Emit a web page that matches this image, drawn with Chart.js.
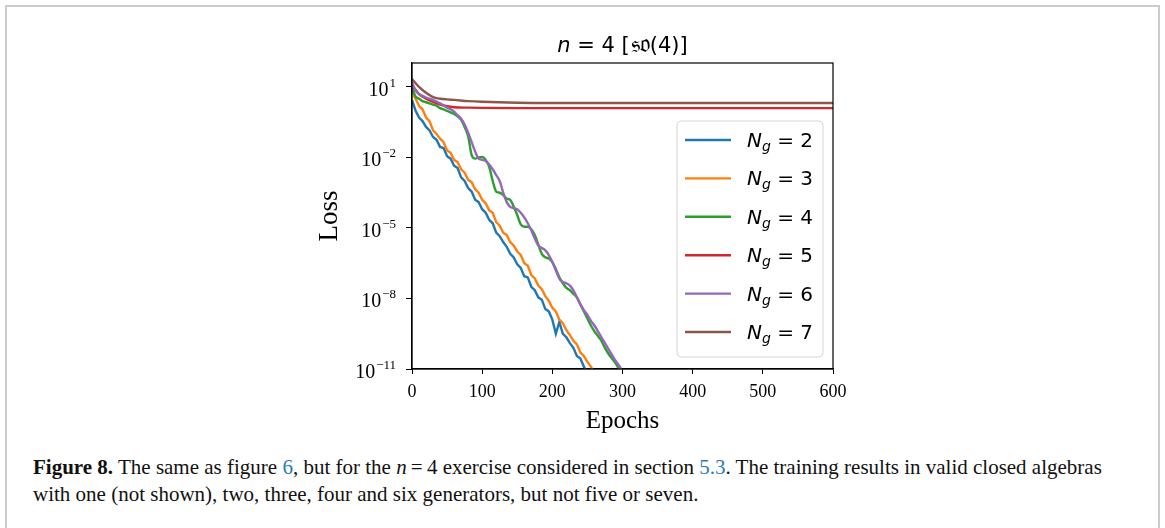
<!DOCTYPE html>
<html>
<head>
<meta charset="utf-8">
<script src="https://cdn.jsdelivr.net/npm/chart.js@4.4.0/dist/chart.umd.min.js"></script>
<style>
  html, body { margin: 0; padding: 0; background: #fff; }
  body { width: 1165px; height: 528px; position: relative; overflow: hidden; }
  .frame {
    position: absolute; left: 5px; top: 5px; width: 1155px; height: 600px;
    border: 2px solid #cccccc; box-sizing: border-box;
  }
  .chart-box { position: absolute; left: 0; top: 0; width: 1165px; height: 440px; }
  .caption {
    position: absolute; left: 33px; top: 454px; width: 1100px;
    font-family: "Liberation Serif", "Times New Roman", serif;
    font-size: 21px; line-height: 27px; color: #111;
  }
  .caption b { font-weight: bold; }
  .caption .ref { color: #2b7bb9; }
</style>
</head>
<body>
<div class="frame"></div>
<div class="chart-box"><canvas id="lossChart"></canvas></div>
<div class="caption">
  <b>Figure 8.</b> The same as figure <span class="ref">6</span>, but for the <i>n</i>&thinsp;=&thinsp;4 exercise considered in section <span class="ref">5.3</span>. The training results in valid closed algebras<br>
  with one (not shown), two, three, four and six generators, but not five or seven.
</div>

<script>
// loss curves, stored as log10(loss) against epoch
const epochsFast = [0,5,10,15,20,25,30,35,40,45,50,55,60,65,70,75,80,85,90,95,100,105,110,115,120,125,130,135,140,145,150,155,160,165,170,175,180,185,190,195,200,205,210,215,220,225,230,235,240,245,250,255,260];
const epochsSlow = [0,5,10,15,20,25,30,35,40,45,50,55,60,65,70,75,80,85,90,95,100,105,110,115,120,125,130,135,140,145,150,155,160,165,170,175,180,185,190,195,200,205,210,215,220,225,230,235,240,245,250,255,260,265,270,275,280,285,290,295,300,305];
const epochsFlat = [0,10,20,30,40,50,60,80,100,150,200,300,400,500,600];

const lossNg2 = [0.45,0.0,-0.3,-0.45,-0.7,-0.85,-1.13,-1.25,-1.55,-1.6,-1.95,-2.05,-2.35,-2.45,-2.85,-3.0,-3.3,-3.45,-3.8,-3.9,-4.2,-4.35,-4.65,-4.8,-5.2,-5.35,-5.6,-5.8,-6.1,-6.25,-6.55,-6.7,-7.05,-7.1,-7.5,-7.65,-7.95,-8.05,-8.45,-8.55,-8.9,-9.5,-9.0,-9.5,-9.65,-9.9,-10.1,-10.45,-10.55,-10.9,-11.2];
const lossNg3 = [0.8,0.5,0.2,0.05,-0.3,-0.45,-0.85,-1.0,-1.2,-1.35,-1.7,-1.8,-2.1,-2.2,-2.5,-2.65,-2.95,-3.05,-3.35,-3.5,-3.8,-3.95,-4.25,-4.35,-4.75,-4.9,-5.2,-5.3,-5.6,-5.75,-6.0,-6.15,-6.5,-6.6,-7.0,-7.15,-7.45,-7.6,-7.9,-8.1,-8.4,-8.55,-8.9,-9.05,-9.35,-9.55,-9.8,-9.95,-10.3,-10.45,-10.7,-10.9,-11.2];
const lossNg4 = [1.0,0.6,0.5,0.4,0.35,0.3,0.25,0.2,0.1,0.05,-0.02,-0.08,-0.15,-0.25,-0.4,-0.7,-1.1,-1.9,-2.05,-2.0,-1.98,-2.1,-2.4,-3.0,-3.45,-3.5,-3.6,-3.75,-3.8,-4.1,-4.45,-4.85,-4.95,-4.95,-5.05,-5.3,-5.7,-6.1,-6.25,-6.3,-6.45,-6.75,-7.1,-7.35,-7.55,-7.65,-7.8,-7.95,-8.25,-8.55,-8.85,-9.15,-9.4,-9.6,-9.8,-10.1,-10.35,-10.55,-10.75,-11.0,-11.3,-11.5];
const lossNg5 = [1.08,0.7,0.5,0.36,0.25,0.18,0.14,0.12,0.11,0.1,0.1,0.1,0.1,0.1,0.1];
const lossNg6 = [1.2,0.85,0.7,0.62,0.55,0.5,0.45,0.38,0.3,0.22,0.12,0.05,-0.05,-0.2,-0.35,-0.6,-0.95,-1.35,-1.75,-2.05,-2.1,-2.15,-2.3,-2.5,-2.75,-3.0,-3.5,-3.9,-4.1,-4.15,-4.2,-4.35,-4.55,-4.8,-5.1,-5.45,-5.75,-5.85,-5.95,-6.15,-6.45,-6.8,-7.15,-7.3,-7.35,-7.45,-7.65,-7.95,-8.25,-8.5,-8.7,-8.95,-9.15,-9.4,-9.65,-9.9,-10.15,-10.4,-10.65,-10.85,-11.1,-11.3];
const lossNg7 = [1.34,1.0,0.75,0.57,0.5,0.47,0.45,0.4,0.37,0.33,0.32,0.32,0.32,0.32,0.32];

const generatorCounts = [2, 3, 4, 5, 6, 7];
const seriesColors = ['#1f77b4', '#ff7f0e', '#2ca02c', '#d62728', '#9467bd', '#8c564b'];
const xTicks = [0, 100, 200, 300, 400, 500, 600];
const yTickExps = [1, -2, -5, -8, -11];

const series = [
    { x: epochsFast, y: lossNg2, smooth: false },
    { x: epochsFast, y: lossNg3, smooth: false },
    { x: epochsSlow, y: lossNg4, smooth: true },
    { x: epochsFlat, y: lossNg5, smooth: true },
    { x: epochsSlow, y: lossNg6, smooth: true },
    { x: epochsFlat, y: lossNg7, smooth: true },
];

const SERIF = '"Liberation Serif", "Times New Roman", serif';
const SANS = '"DejaVu Sans", sans-serif';

// frame, tick labels with exponents, axis titles, title and the legend
const decorations = {
    id: 'decorations',
    afterDraw(chart) {
        const ctx = chart.ctx;
        const area = chart.chartArea;
        const yScale = chart.scales.y;
        ctx.save();

        ctx.strokeStyle = '#000';
        ctx.lineWidth = 1.2;
        ctx.strokeRect(area.left, area.top, area.right - area.left, area.bottom - area.top);

        ctx.fillStyle = '#000';
        ctx.textBaseline = 'alphabetic';
        yTickExps.forEach(e => {
            const py = yScale.getPixelForValue(Math.pow(10, e));
            const sup = e < 0 ? '\u2212' + Math.abs(e) : String(e);
            ctx.font = '13px ' + SERIF;
            const supW = ctx.measureText(sup).width;
            ctx.textAlign = 'right';
            ctx.fillText(sup, 396, py);
            ctx.font = '20px ' + SERIF;
            ctx.fillText('10', 396 - supW - 1, py + 9);
        });

        ctx.font = '25px ' + SERIF;
        ctx.textAlign = 'center';
        ctx.fillText('Epochs', (area.left + area.right) / 2, 428);

        ctx.save();
        ctx.font = '27px ' + SERIF;
        ctx.translate(337, (area.top + area.bottom) / 2);
        ctx.rotate(-Math.PI / 2);
        ctx.fillText('Loss', 0, 0);
        ctx.restore();

        drawTitle(ctx, (area.left + area.right) / 2, 52);
        drawLegend(ctx);
        ctx.restore();
    }
};

function drawPieces(ctx, pieces, x, baseline) {
    let cx = x;
    pieces.forEach(p => {
        ctx.font = p.font;
        ctx.fillText(p.text, cx, baseline + (p.dy || 0));
        cx += ctx.measureText(p.text).width + (p.gap || 0);
    });
    return cx;
}

function measurePieces(ctx, pieces) {
    return pieces.reduce((w, p) => { ctx.font = p.font; return w + ctx.measureText(p.text).width + (p.gap || 0); }, 0);
}

function drawTitle(ctx, cx, baseline) {
    const pieces = [
        { text: 'n', font: 'italic 21px ' + SANS },
        { text: ' = 4 [', font: '21px ' + SANS, gap: 1 },
        { text: '\u{1D530}\u{1D52C}', font: '25px ' + SANS },
        { text: '(4)]', font: '21px ' + SANS },
    ];
    ctx.textAlign = 'left';
    const w = measurePieces(ctx, pieces);
    drawPieces(ctx, pieces, cx - w / 2, baseline);
}

function drawLegend(ctx) {
    const box = { x: 677, y: 121, w: 146, h: 236 };
    ctx.beginPath();
    ctx.roundRect(box.x, box.y, box.w, box.h, 4);
    ctx.fillStyle = 'rgba(255,255,255,0.8)';
    ctx.fill();
    ctx.strokeStyle = '#d6d6d6';
    ctx.lineWidth = 1;
    ctx.stroke();

    ctx.textAlign = 'left';
    generatorCounts.forEach((n, i) => {
        const ry = 140 + i * 38.4;
        ctx.strokeStyle = seriesColors[i];
        ctx.lineWidth = 2.4;
        ctx.beginPath();
        ctx.moveTo(685, ry);
        ctx.lineTo(731, ry);
        ctx.stroke();

        ctx.fillStyle = '#000';
        drawPieces(ctx, [
            { text: 'N', font: 'italic 20px ' + SANS },
            { text: 'g', font: 'italic 14px ' + SANS, dy: 4 },
            { text: ' = ' + n, font: '20px ' + SANS },
        ], 747, ry + 7);
    });
}

function renderChart() {
    const canvas = document.getElementById('lossChart');
    const ctx = canvas.getContext('2d');

    const datasets = series.map((s, i) => ({
        label: 'N_g = ' + generatorCounts[i],
        data: s.x.map((e, k) => ({ x: e, y: Math.pow(10, s.y[k]) })),
        borderColor: seriesColors[i],
        borderWidth: 2.4,
        pointRadius: 0,
        fill: false,
        tension: 0,
        cubicInterpolationMode: s.smooth ? 'monotone' : 'default',
        order: series.length - i,
    }));

    new Chart(ctx, {
        type: 'line',
        data: { datasets },
        options: {
            responsive: true,
            maintainAspectRatio: false,
            animation: false,
            layout: { padding: { left: 312, right: 332, top: 63, bottom: 11 } },
            plugins: {
                legend: { display: false },
                tooltip: { enabled: false },
            },
            scales: {
                x: {
                    type: 'linear',
                    min: 0,
                    max: 600,
                    afterFit: scale => { scale.height = 60; },
                    afterBuildTicks: scale => { scale.ticks = xTicks.map(v => ({ value: v })); },
                    grid: { drawOnChartArea: false, drawTicks: true, tickLength: 5, color: '#000' },
                    border: { display: true, color: '#000', width: 1.2 },
                    ticks: {
                        color: '#000',
                        padding: 7,
                        maxRotation: 0,
                        font: { family: 'Liberation Serif', size: 18 },
                    },
                },
                y: {
                    type: 'logarithmic',
                    min: 1e-11,
                    max: Math.pow(10, 2.02),
                    afterFit: scale => { scale.width = 100; },
                    afterBuildTicks: scale => { scale.ticks = yTickExps.map(e => ({ value: Math.pow(10, e) })); },
                    grid: { drawOnChartArea: false, drawTicks: true, tickLength: 6, color: '#000' },
                    border: { display: true, color: '#000', width: 1.2 },
                    ticks: { display: false },
                },
            },
        },
        plugins: [decorations],
    });
}

renderChart();
</script>
</body>
</html>
